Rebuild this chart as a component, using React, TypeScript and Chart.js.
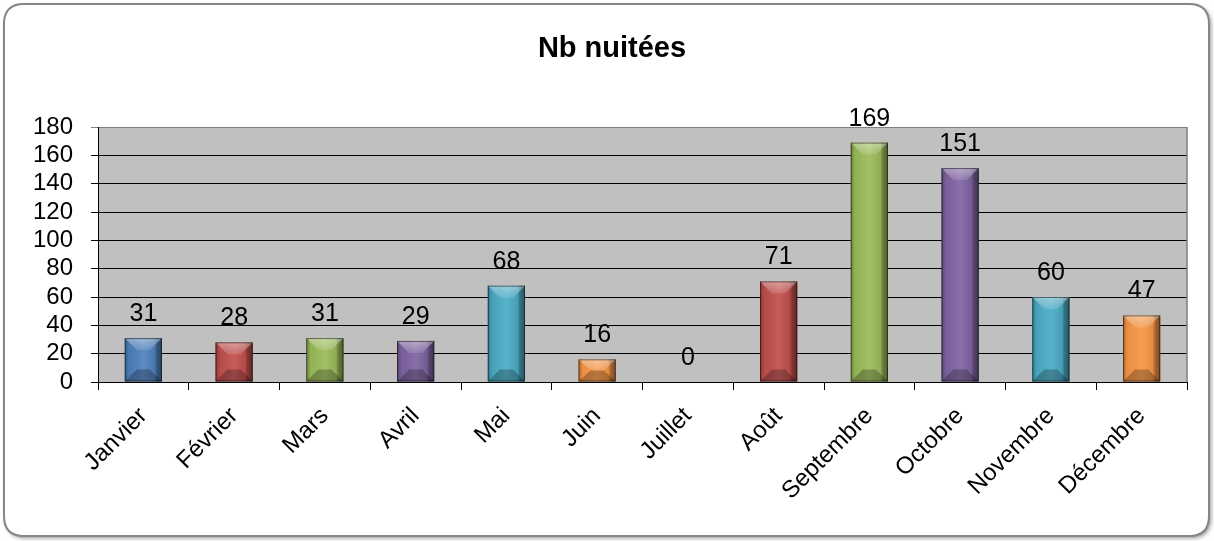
import React, { useEffect, useRef } from "react";
import { Chart, registerables } from "chart.js";

Chart.register(...registerables);

const TITLE = "Nb nuitées";
const MONTHS = ["Janvier", "Février", "Mars", "Avril", "Mai", "Juin", "Juillet", "Août", "Septembre", "Octobre", "Novembre", "Décembre"];
const NUITEES = [31, 28, 31, 29, 68, 16, 0, 71, 169, 151, 60, 47];
const BAR_COLORS = ["#4F81BD", "#C0504D", "#9BBB59", "#8064A2", "#4BACC6", "#F79646", "#4F81BD", "#C0504D", "#9BBB59", "#8064A2", "#4BACC6", "#F79646"];
const Y_MIN = 0;
const Y_MAX = 180;
const Y_STEP = 20;

const FONT = "'Liberation Sans', Arial, sans-serif";

function roundRect(ctx: CanvasRenderingContext2D, x: number, y: number, w: number, h: number, r: number) {
  ctx.beginPath();
  ctx.moveTo(x + r, y);
  ctx.lineTo(x + w - r, y);
  ctx.quadraticCurveTo(x + w, y, x + w, y + r);
  ctx.lineTo(x + w, y + h - r);
  ctx.quadraticCurveTo(x + w, y + h, x + w - r, y + h);
  ctx.lineTo(x + r, y + h);
  ctx.quadraticCurveTo(x, y + h, x, y + h - r);
  ctx.lineTo(x, y + r);
  ctx.quadraticCurveTo(x, y, x + r, y);
  ctx.closePath();
}

const framePlugin = {
  id: "frame",
  beforeDraw(chart: any) {
    const ctx = chart.ctx as CanvasRenderingContext2D;
    const W = chart.width, H = chart.height;
    ctx.save();
    ctx.fillStyle = "#ffffff";
    ctx.fillRect(0, 0, W, H);
    ctx.shadowColor = "rgba(0,0,0,0.45)";
    ctx.shadowBlur = 4;
    ctx.shadowOffsetX = 2;
    ctx.shadowOffsetY = 2;
    roundRect(ctx, 4, 4, W - 9, H - 9, 20);
    ctx.fillStyle = "#ffffff";
    ctx.fill();
    ctx.shadowColor = "transparent";
    ctx.lineWidth = 2;
    ctx.strokeStyle = "#868686";
    ctx.stroke();
    const a = chart.chartArea;
    ctx.fillStyle = "#c0c0c0";
    ctx.fillRect(a.left, a.top, a.right - a.left, a.bottom - a.top);
    ctx.fillStyle = "#000";
    ctx.font = `bold 29px ${FONT}`;
    ctx.textAlign = "center";
    ctx.textBaseline = "alphabetic";
    ctx.fillText(TITLE, W / 2 + 5, 57);
    ctx.restore();
  },
  beforeDatasetsDraw(chart: any) {
    const ctx = chart.ctx as CanvasRenderingContext2D;
    const a = chart.chartArea;
    ctx.save();
    ctx.strokeStyle = "#808080";
    ctx.lineWidth = 1.5;
    ctx.beginPath();
    ctx.moveTo(a.right, a.top);
    ctx.lineTo(a.right, a.bottom);
    ctx.stroke();
    ctx.restore();
  },
};

const bevelPlugin = {
  id: "bevel",
  afterDatasetsDraw(chart: any) {
    const ctx = chart.ctx as CanvasRenderingContext2D;
    const meta = chart.getDatasetMeta(0);
    ctx.save();
    meta.data.forEach((bar: any, i: number) => {
      const { x, y, base, width } = bar.getProps(["x", "y", "base", "width"], true);
      const L = x - width / 2, R = x + width / 2, T = Math.min(y, base), B = Math.max(y, base);
      const h = B - T;
      if (h > 0.5) {
        const d = Math.min(12, h / 2);
        const ins = Math.min(12, width / 2 - 2);
        const g = ctx.createLinearGradient(L, 0, R, 0);
        g.addColorStop(0, "rgba(0,0,0,0.3)");
        g.addColorStop(0.12, "rgba(0,0,0,0.05)");
        g.addColorStop(0.5, "rgba(255,255,255,0.08)");
        g.addColorStop(0.8, "rgba(0,0,0,0.08)");
        g.addColorStop(0.86, "rgba(0,0,0,0.32)");
        g.addColorStop(1, "rgba(0,0,0,0.5)");
        ctx.fillStyle = g;
        ctx.fillRect(L, T, width, h);
        ctx.beginPath();
        ctx.moveTo(L, T);
        ctx.lineTo(R, T);
        ctx.lineTo(R - ins, T + d);
        ctx.lineTo(L + ins, T + d);
        ctx.closePath();
        const gt = ctx.createLinearGradient(0, T, 0, T + d);
        gt.addColorStop(0, "rgba(255,255,255,0.4)");
        gt.addColorStop(1, "rgba(255,255,255,0.12)");
        ctx.fillStyle = gt;
        ctx.fill();
        ctx.beginPath();
        ctx.moveTo(L, B);
        ctx.lineTo(R, B);
        ctx.lineTo(R - ins, B - d);
        ctx.lineTo(L + ins, B - d);
        ctx.closePath();
        ctx.fillStyle = "rgba(0,0,0,0.25)";
        ctx.fill();
        ctx.strokeStyle = "rgba(0,0,0,0.5)";
        ctx.lineWidth = 1;
        ctx.strokeRect(L + 0.5, T + 0.5, width - 1, h - 1);
      }
      ctx.fillStyle = "#000";
      ctx.font = `25px ${FONT}`;
      ctx.textAlign = "center";
      ctx.textBaseline = "alphabetic";
      ctx.fillText(String(NUITEES[i]), x, T - 17);
    });
    ctx.restore();
  },
};

export default function App() {
  const ref = useRef<HTMLCanvasElement | null>(null);
  useEffect(() => {
    document.body.style.margin = "0";
    const canvas = ref.current!;
    const chart = new Chart(canvas, {
      type: "bar",
      data: {
        labels: MONTHS,
        datasets: [
          {
            data: NUITEES,
            backgroundColor: BAR_COLORS,
            borderWidth: 0,
            barPercentage: 0.41,
            categoryPercentage: 1,
          },
        ],
      },
      options: {
        responsive: false,
        animation: false,
        devicePixelRatio: 1,
        layout: { padding: { left: 0, right: 27, top: 127, bottom: 0 } },
        plugins: { legend: { display: false }, tooltip: { enabled: false }, title: { display: false } },
        scales: {
          x: {
            afterFit: (s: any) => { s.height = 159; s.paddingLeft = 0; s.paddingRight = 0; },
            grid: { drawOnChartArea: false, drawTicks: true, tickLength: 8, color: "#000", offset: true },
            border: { color: "#000", width: 1 },
            ticks: {
              color: "#000",
              font: { family: FONT, size: 24 },
              minRotation: 45,
              maxRotation: 45,
              padding: 12,
              autoSkip: false,
            },
          },
          y: {
            min: Y_MIN,
            max: Y_MAX,
            afterFit: (s: any) => { s.width = 98; },
            grid: {
              color: (c: any) => (c.tick && c.tick.value === Y_MAX ? "#808080" : "#000"),
              tickLength: 7,
              drawTicks: true,
            },
            border: { color: "#000", width: 1 },
            ticks: {
              stepSize: Y_STEP,
              autoSkip: false,
              color: "#000",
              font: { family: FONT, size: 24 },
              padding: 18,
            },
          },
        },
      },
      plugins: [framePlugin, bevelPlugin],
    });
    return () => chart.destroy();
  }, []);
  return (
    <div style={{ position: "absolute", left: 0, top: 0, width: 1214, height: 541 }}>
      <canvas ref={ref} width={1214} height={541} style={{ display: "block" }} />
    </div>
  );
}
